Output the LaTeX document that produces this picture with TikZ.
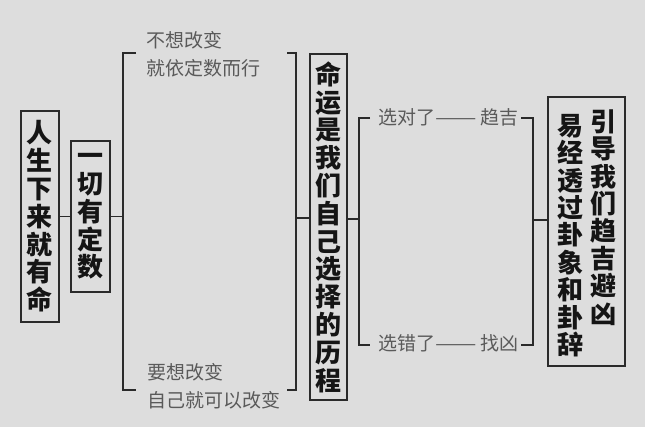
\documentclass[tikz,border=0pt]{standalone}
\usepackage{fontspec}
\newfontfamily\cjk{Noto Sans CJK SC}
\definecolor{bg}{HTML}{DDDDDD}
\definecolor{linec}{HTML}{2A2A2A}
\definecolor{graytext}{HTML}{5A5A5A}
\definecolor{boxtext}{HTML}{151515}
\newcommand{\longdash}{\scalebox{1.3}[1]{——}}
\tikzset{
  box/.style={draw=linec, line width=1.8pt, inner sep=0pt, align=center, text=boxtext,
    font=\cjk\bfseries\fontsize{26}{27.8}\selectfont},
  coltext/.style={inner sep=0pt, align=center, text=boxtext,
    font=\cjk\bfseries\fontsize{26}{27.4}\selectfont},
  gtext/.style={inner sep=0pt, anchor=west, text=graytext,
    font=\cjk\fontsize{19}{28}\selectfont},
  brk/.style={draw=linec, line width=1.6pt},
}
\begin{document}
\begin{tikzpicture}[x=1pt,y=-1pt]
\fill[bg] (0,0) rectangle (645,427);
\useasboundingbox (0,0) rectangle (645,427);
% boxes
\node[box, minimum width=38, minimum height=211] (b1) at (40,216.5) {人\\生\\下\\来\\就\\有\\命};
\node[box, minimum width=39.5, minimum height=151.5] (b2) at (90.5,216.5) {一\\切\\有\\定\\数};
\node[box, minimum width=37, minimum height=346] (b3) at (328.5,227) {命\\运\\是\\我\\们\\自\\己\\选\\择\\的\\历\\程};
\node[draw=linec, line width=1.8pt, minimum width=77, minimum height=269, inner sep=0pt] (b4) at (586.5,231.5) {};
\node[coltext] (c1) at (603,217.5) {引\\导\\我\\们\\趋\\吉\\避\\凶};
\node[coltext] (c2) at (570,235.5) {易\\经\\透\\过\\卦\\象\\和\\卦\\辞};
% bracket coordinates
\coordinate (L1) at (123,218);
\coordinate (R1) at (296,218);
\coordinate (L2) at (359,219);
\coordinate (R2) at (533,220);
% connectors
\draw[brk] (b1.east) -- (b2.west);
\draw[brk] (b2.east) -- (b2.east -| L1);
\draw[brk] (R1) -- (R1 -| b3.west);
\draw[brk] (L2 -| b3.east) -- (L2);
\draw[brk] (R2) -- (R2 -| b4.west);
% brackets
\draw[brk] (136,53) -- (123,53) -- (123,390) -- (136,390);
\draw[brk] (287,53) -- (296,53) -- (296,390) -- (287,390);
\draw[brk] (370,118) -- (359,118) -- (359,345) -- (370,345);
\draw[brk] (521,118) -- (533,118) -- (533,345) -- (521,345);
% gray texts
\node[gtext] (g1) at (146,40) {不想改变};
\node[gtext] (g2) at (146,68) {就依定数而行};
\node[gtext] (g3) at (147,372) {要想改变};
\node[gtext] (g4) at (147,400) {自己就可以改变};
\node[gtext] (g5) at (378,117) {选对了\longdash{} 趋吉};
\node[gtext] (g6) at (378,343) {选错了\longdash{} 找凶};
\end{tikzpicture}
\end{document}
